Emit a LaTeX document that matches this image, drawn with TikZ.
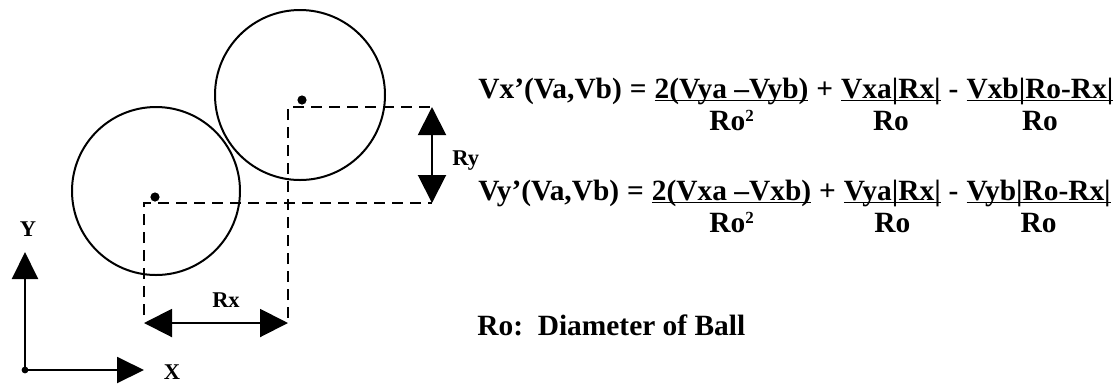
\documentclass[tikz,border=0pt]{standalone}
\usepackage{fontspec}
\setmainfont{Liberation Serif}
\usetikzlibrary{arrows.meta,positioning}
\newcommand{\numline}[1]{\setbox0\hbox{#1}\rlap{\rule[-1.6pt]{\wd0}{0.75pt}}\box0}
\newcommand{\sqsup}{\raisebox{4.2pt}{\fontsize{8.5}{9}\selectfont 2}}

\begin{document}
\begin{tikzpicture}[
  x=0.5pt, y=-0.5pt,
  every node/.style={font=\bfseries, inner sep=0pt},
  lbl/.style={font=\fontsize{11.25}{13}\selectfont\bfseries},
  eq/.style={font=\fontsize{14.7}{17}\selectfont\bfseries, anchor=base west},
  den/.style={font=\fontsize{14.7}{17}\selectfont\bfseries, anchor=base},
  ball/.style={draw, line width=1pt},
  guide/.style={line width=1.2pt, dash pattern=on 5.5pt off 3.5pt},
  dim/.style={{Triangle[length=14pt,width=14pt]}-{Triangle[length=14pt,width=14pt]}, line width=1pt},
  ax/.style={-{Triangle[length=13.5pt,width=13pt]}, line width=1pt},
  ctr/.style={circle, fill, minimum size=4.6pt}
]
\useasboundingbox (0,0) rectangle (1116,388);

% balls
\draw[ball] (156,191) circle[radius=42pt];
\draw[ball] (300,95) circle[radius=42.5pt];
\node[ctr] (pa) at (155,197) {};
\node[ctr] (pb) at (302,100) {};

% guide lines
\coordinate (ca) at (144,203);
\coordinate (cb) at (288,107);
\coordinate (ca1) at (144,315);
\coordinate (cb1) at (288,318);
\coordinate (ca2) at (432,203);
\coordinate (cb2) at (432,107);
\draw[guide] (ca1) -- (ca) -- (ca2);
\draw[guide] (cb1) -- (cb) -- (cb2);

% distances
\coordinate (rxa) at (144,323);
\coordinate (rxb) at (288,323);
\draw[dim] (rxa) -- (rxb);
\draw[dim] (cb2) -- (ca2);
\node[lbl] (rx) at (226,300) {Rx};
\node[lbl, anchor=base west] (ry) at (452,165) {Ry};

% axes
\node[ctr, minimum size=3.4pt] (o) at (25,370) {};
\coordinate (ytip) at (25,252);
\coordinate (xtip) at (144,370);
\draw[ax] (o.center) -- (ytip);
\draw[ax] (o.center) -- (xtip);
\node[lbl] (ylbl) at (28,229) {Y};
\node[lbl] (xlbl) at (172,372) {X};

% equation for Vx'
\node[eq] (vx) at (478,98) {Vx’(Va,Vb)};
\node[eq, base right=3.6pt of vx] (eqx) {=};
\node[eq, base right=3.6pt of eqx] (nx1) {\numline{2(Vya –Vyb)}};
\node[eq, base right=3.6pt of nx1] (plx) {+};
\node[eq, base right=3.6pt of plx] (nx2) {\numline{Vxa|Rx|}};
\node[eq, base right=3.6pt of nx2] (mix) {-};
\node[eq, base right=3.6pt of mix] (nx3) {\numline{Vxb|Ro-Rx|}};
\node[den] (dx1) at ([yshift=-16pt]nx1.base) {Ro\sqsup};
\node[den] (dx2) at ([yshift=-16pt]nx2.base) {Ro};
\node[den] (dx3) at ([yshift=-16pt]nx3.base) {Ro};

% equation for Vy'
\node[eq] (vy) at (478,200) {Vy’(Va,Vb)};
\node[eq, base right=3.6pt of vy] (eqy) {=};
\node[eq, base right=3.6pt of eqy] (ny1) {\numline{2(Vxa –Vxb)}};
\node[eq, base right=3.6pt of ny1] (ply) {+};
\node[eq, base right=3.6pt of ply] (ny2) {\numline{Vya|Rx|}};
\node[eq, base right=3.6pt of ny2] (miy) {-};
\node[eq, base right=3.6pt of miy] (ny3) {\numline{Vyb|Ro-Rx|}};
\node[den] (dy1) at ([yshift=-16pt]ny1.base) {Ro\sqsup};
\node[den] (dy2) at ([yshift=-16pt]ny2.base) {Ro};
\node[den] (dy3) at ([yshift=-16pt]ny3.base) {Ro};

\node[eq] (ro) at (477,335) {Ro:\ \ Diameter of Ball};
\end{tikzpicture}
\end{document}
